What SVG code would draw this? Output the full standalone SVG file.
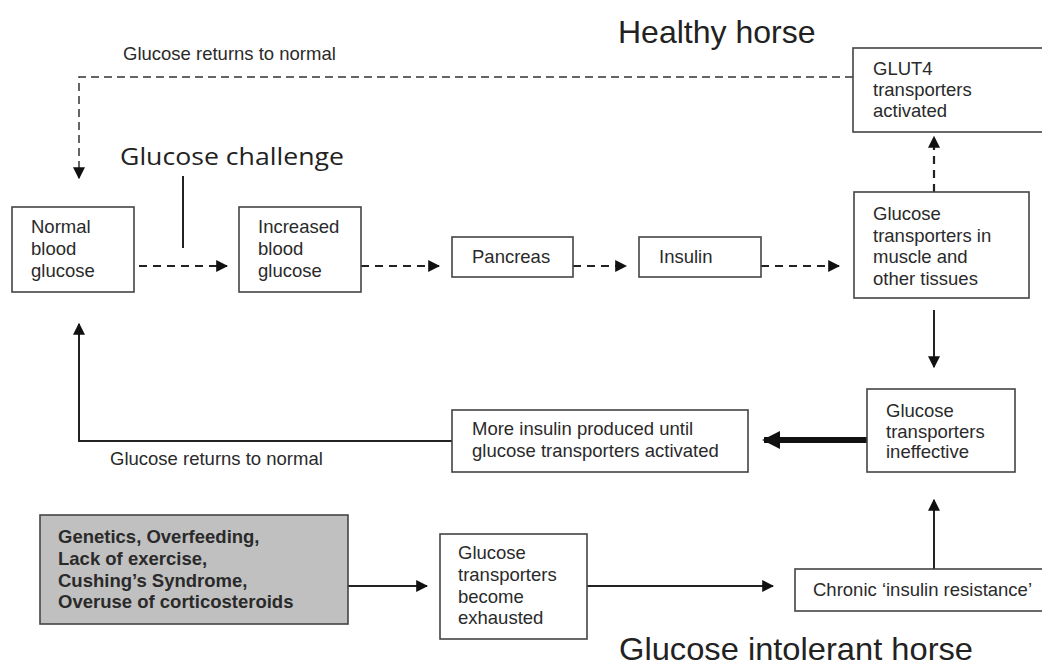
<svg xmlns="http://www.w3.org/2000/svg" width="1042" height="668" viewBox="0 0 1042 668">
<style>
.box{fill:#fff;stroke:#444;stroke-width:1.6}
.grey{fill:#c0c0c0;stroke:#444;stroke-width:1.6}
.t{font-family:"Liberation Sans",Arial,sans-serif;font-size:18.5px;fill:#2a2a2a}
.b{font-family:"Liberation Sans",Arial,sans-serif;font-size:18.5px;font-weight:bold;fill:#2a2a2a}
.title{font-family:"Liberation Sans",Arial,sans-serif;font-size:32px;fill:#222}
.cal{font-family:"Open Sans","Noto Sans",sans-serif;font-size:24px;fill:#222}
.dash{fill:none;stroke:#222;stroke-width:2.2;stroke-dasharray:8 6}
.thin{fill:none;stroke:#333;stroke-width:1.5;stroke-dasharray:8 5}
.solid{fill:none;stroke:#222;stroke-width:2}
.thick{fill:none;stroke:#111;stroke-width:6}
</style>
<defs>
<marker id="ah" viewBox="0 0 10 10" refX="9" refY="5" markerWidth="12" markerHeight="12" markerUnits="userSpaceOnUse" orient="auto"><path d="M0,0 L10,5 L0,10 z" fill="#111"/></marker>
<marker id="ahb" viewBox="0 0 10 10" refX="9" refY="5" markerWidth="18" markerHeight="18" markerUnits="userSpaceOnUse" orient="auto"><path d="M0,0 L10,5 L0,10 z" fill="#111"/></marker>
</defs>
<rect width="1042" height="668" fill="#fff"/>

<text class="title" x="618" y="43">Healthy horse</text>
<text class="title" x="619" y="660" textLength="354" lengthAdjust="spacingAndGlyphs">Glucose intolerant horse</text>
<text class="t" x="123" y="60">Glucose returns to normal</text>
<text class="t" x="110" y="465">Glucose returns to normal</text>
<text class="cal" x="120" y="165" textLength="224" lengthAdjust="spacingAndGlyphs">Glucose challenge</text>

<g id="connectors">
<line class="dash" x1="139" y1="266" x2="227" y2="266" marker-end="url(#ah)"/>
<line class="dash" x1="361" y1="266" x2="439" y2="266" marker-end="url(#ah)"/>
<line class="dash" x1="573" y1="266" x2="626" y2="266" marker-end="url(#ah)"/>
<line class="dash" x1="761" y1="266" x2="839" y2="266" marker-end="url(#ah)"/>
<line class="dash" x1="934" y1="192" x2="934" y2="137" marker-end="url(#ah)"/>
<path class="thin" d="M853,77 H79 V178" marker-end="url(#ah)"/>
<line class="solid" x1="183" y1="176" x2="183" y2="248"/>
<line class="solid" x1="934" y1="310" x2="934" y2="367" marker-end="url(#ah)"/>
<line class="thick" x1="867" y1="440" x2="764" y2="440" marker-end="url(#ahb)"/>
<path class="solid" d="M452,441 H79 V324" marker-end="url(#ah)"/>
<line class="solid" x1="348" y1="586" x2="427" y2="586" marker-end="url(#ah)"/>
<line class="solid" x1="587" y1="586" x2="773" y2="586" marker-end="url(#ah)"/>
<line class="solid" x1="934" y1="569" x2="934" y2="500" marker-end="url(#ah)"/>
</g>

<g id="normal">
<rect class="box" x="12" y="207" width="122" height="85"/>
<text class="t" x="31" y="233">Normal</text>
<text class="t" x="31" y="255">blood</text>
<text class="t" x="31" y="277">glucose</text>
</g>
<g id="increased">
<rect class="box" x="239" y="207" width="122" height="85"/>
<text class="t" x="258" y="233">Increased</text>
<text class="t" x="258" y="255">blood</text>
<text class="t" x="258" y="277">glucose</text>
</g>
<g id="pancreas">
<rect class="box" x="452" y="237" width="121" height="40"/>
<text class="t" x="472" y="263">Pancreas</text>
</g>
<g id="insulin">
<rect class="box" x="639" y="237" width="122" height="40"/>
<text class="t" x="659" y="263">Insulin</text>
</g>
<g id="glut4">
<rect class="box" x="853" y="48" width="195" height="84"/>
<text class="t" x="873" y="75">GLUT4</text>
<text class="t" x="873" y="96">transporters</text>
<text class="t" x="873" y="117">activated</text>
</g>
<g id="transporters">
<rect class="box" x="854" y="192" width="175" height="106"/>
<text class="t" x="873" y="220">Glucose</text>
<text class="t" x="873" y="242">transporters in</text>
<text class="t" x="873" y="263">muscle and</text>
<text class="t" x="873" y="285">other tissues</text>
</g>
<g id="ineffective">
<rect class="box" x="867" y="389" width="148" height="83"/>
<text class="t" x="886" y="417">Glucose</text>
<text class="t" x="886" y="438">transporters</text>
<text class="t" x="886" y="458">ineffective</text>
</g>
<g id="more-insulin">
<rect class="box" x="452" y="410" width="296" height="62"/>
<text class="t" x="472" y="435">More insulin produced until</text>
<text class="t" x="472" y="457">glucose transporters activated</text>
</g>
<g id="causes">
<rect class="grey" x="40" y="515" width="308" height="109"/>
<text class="b" x="58" y="543">Genetics, Overfeeding,</text>
<text class="b" x="58" y="565">Lack of exercise,</text>
<text class="b" x="58" y="587">Cushing’s Syndrome,</text>
<text class="b" x="58" y="608">Overuse of corticosteroids</text>
</g>
<g id="exhausted">
<rect class="box" x="440" y="534" width="147" height="105"/>
<text class="t" x="458" y="559">Glucose</text>
<text class="t" x="458" y="581">transporters</text>
<text class="t" x="458" y="603">become</text>
<text class="t" x="458" y="624">exhausted</text>
</g>
<g id="chronic">
<rect class="box" x="795" y="569" width="255" height="42"/>
<text class="t" x="813" y="596">Chronic ‘insulin resistance’</text>
</g>
</svg>
